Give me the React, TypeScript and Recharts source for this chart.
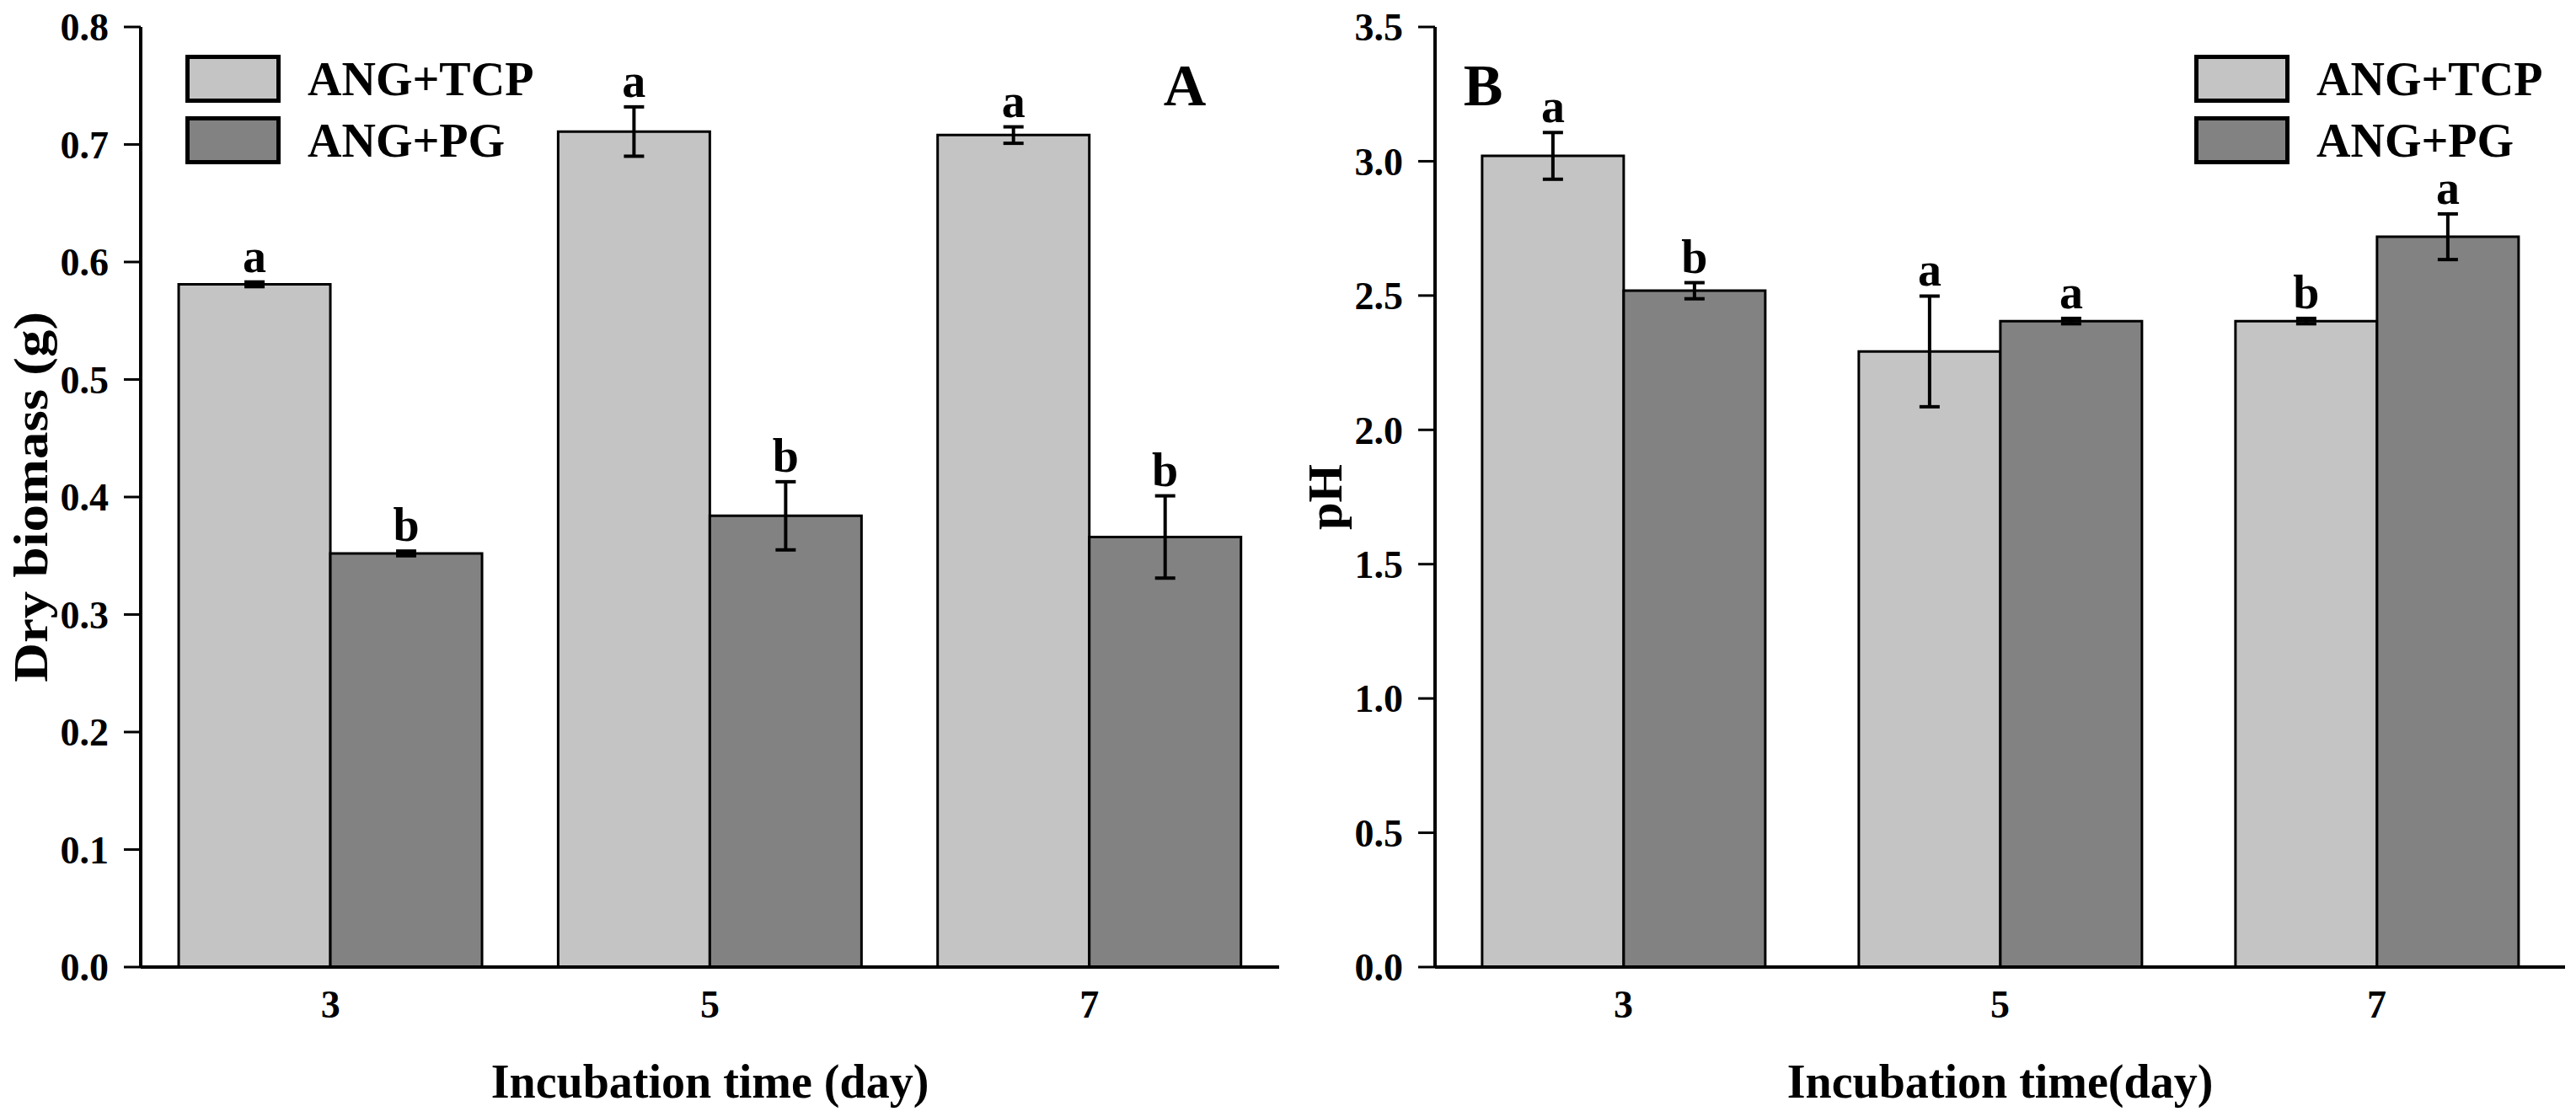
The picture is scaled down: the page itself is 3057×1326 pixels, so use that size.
import React from 'react';
import { BarChart, Bar, XAxis, YAxis, ErrorBar, LabelList, Legend } from 'recharts';

// ---------- data ----------
const days = ['3', '5', '7'];

const biomassTCP = [0.581, 0.711, 0.708];
const biomassTCPErr = [0.002, 0.021, 0.007];
const biomassPG = [0.352, 0.384, 0.366];
const biomassPGErr = [0.002, 0.029, 0.035];
const biomassTCPLetters = ['a', 'a', 'a'];
const biomassPGLetters = ['b', 'b', 'b'];
const biomassTicks = [0, 0.1, 0.2, 0.3, 0.4, 0.5, 0.6, 0.7, 0.8];

const phTCP = [3.02, 2.292, 2.405];
const phTCPErr = [0.087, 0.206, 0.01];
const phPG = [2.518, 2.405, 2.719];
const phPGErr = [0.03, 0.01, 0.085];
const phTCPLetters = ['a', 'a', 'b'];
const phPGLetters = ['b', 'a', 'a'];
const phTicks = [0, 0.5, 1.0, 1.5, 2.0, 2.5, 3.0, 3.5];

const seriesNames = ['ANG+TCP', 'ANG+PG'];

// ---------- style ----------
const FONT = "'Liberation Serif', 'Times New Roman', serif";
const LIGHT = '#c4c4c4';
const DARK = '#828282';

const buildRows = (tcp: number[], tcpErr: number[], pg: number[], pgErr: number[], tl: string[], pl: string[]) =>
  days.map((d, i) => ({
    day: d,
    tcp: tcp[i],
    tcpErr: tcpErr[i],
    pg: pg[i],
    pgErr: pgErr[i],
    tcpLetter: tl[i],
    pgLetter: pl[i],
  }));

const biomassRows = buildRows(biomassTCP, biomassTCPErr, biomassPG, biomassPGErr, biomassTCPLetters, biomassPGLetters);
const phRows = buildRows(phTCP, phTCPErr, phPG, phPGErr, phTCPLetters, phPGLetters);

const makeLetter = (rows: any[], valKey: string, errKey: string) => (props: any) => {
  const { x, y, width, height, value, index } = props;
  const row = rows[index];
  if (!row) return null;
  const v = row[valKey];
  const pxPerUnit = Math.abs(height) / v;
  const top = Math.min(y, y + height) - row[errKey] * pxPerUnit;
  return (
    <text x={x + width / 2} y={top - 12} textAnchor="middle" fontFamily={FONT} fontWeight="bold" fontSize={56} fill="#000">
      {value}
    </text>
  );
};

const LegendBox = () => (
  <svg width={440} height={140} style={{ display: 'block' }}>
    {[LIGHT, DARK].map((c, i) => (
      <g key={i}>
        <rect x={4.5} y={7.5 + i * 73} width={108} height={52} fill={c} stroke="#000" strokeWidth={5} />
        <text x={147} y={53 + i * 73} fontFamily={FONT} fontWeight="bold" fontSize={56} fill="#000">
          {seriesNames[i]}
        </text>
      </g>
    ))}
  </svg>
);

type PanelProps = {
  rows: any[];
  width: number;
  yWidth: number;
  rightMargin: number;
  ticks: number[];
  yMax: number;
  yTitle: string;
  yTitleX: number;
  yTitleLen?: number;
  xTitle: string;
  gap: string;
  legendLeft: number;
};

const Panel = (p: PanelProps) => (
  <BarChart
    width={p.width}
    height={1326}
    data={p.rows}
    margin={{ top: 32, right: p.rightMargin, bottom: 0, left: 0 }}
    barCategoryGap={p.gap}
    barGap={0}
  >
    <XAxis
      dataKey="day"
      height={178}
      tickLine={false}
      tickMargin={21}
      axisLine={{ stroke: '#000', strokeWidth: 4 }}
      tick={{ fontSize: 46, fontFamily: FONT, fontWeight: 'bold', fill: '#000' }}
      label={(lp: any) => {
        const vb = lp.viewBox || {};
        return (
          <text x={vb.x + vb.width / 2} y={vb.y + 155} textAnchor="middle" fontFamily={FONT} fontWeight="bold" fontSize={56} fill="#000">
            {p.xTitle}
          </text>
        );
      }}
    />
    <XAxis xAxisId="top" dataKey="day" orientation="top" height={0} tick={false} tickLine={false} axisLine={{ stroke: '#000', strokeWidth: 4 }} />
    <YAxis
      type="number"
      domain={[0, p.yMax]}
      ticks={p.ticks}
      interval={0}
      width={p.yWidth}
      tickSize={20}
      tickMargin={18}
      tickFormatter={(v: number) => v.toFixed(1)}
      axisLine={{ stroke: '#000', strokeWidth: 4 }}
      tickLine={{ stroke: '#000', strokeWidth: 3 }}
      tick={{ fontSize: 46, fontFamily: FONT, fontWeight: 'bold', fill: '#000' }}
      label={(lp: any) => {
        const vb = lp.viewBox || {};
        const cx = vb.x + p.yTitleX;
        const cy = vb.y + vb.height / 2;
        const extra: any = p.yTitleLen ? { textLength: p.yTitleLen, lengthAdjust: 'spacingAndGlyphs' } : {};
        return (
          <text x={cx} y={cy} transform={`rotate(-90, ${cx}, ${cy})`} textAnchor="middle" fontFamily={FONT} fontWeight="bold" fontSize={56} fill="#000" {...extra}>
            {p.yTitle}
          </text>
        );
      }}
    />
    <YAxis yAxisId="right" orientation="right" type="number" domain={[0, 1]} width={0} tick={false} tickLine={false} axisLine={{ stroke: '#000', strokeWidth: 4 }} />
    <Legend
      layout="horizontal"
      verticalAlign="middle"
      align="center"
      width={440}
      wrapperStyle={{ left: p.legendLeft, top: 60, width: 440, height: 140 }}
      content={() => <LegendBox />}
    />
    <Bar dataKey="tcp" name={seriesNames[0]} fill={LIGHT} stroke="#000" strokeWidth={3} isAnimationActive={false}>
      <ErrorBar dataKey="tcpErr" width={12} strokeWidth={4} stroke="#000" direction="y" />
      <LabelList dataKey="tcpLetter" content={makeLetter(p.rows, 'tcp', 'tcpErr')} />
    </Bar>
    <Bar dataKey="pg" name={seriesNames[1]} fill={DARK} stroke="#000" strokeWidth={3} isAnimationActive={false}>
      <ErrorBar dataKey="pgErr" width={12} strokeWidth={4} stroke="#000" direction="y" />
      <LabelList dataKey="pgLetter" content={makeLetter(p.rows, 'pg', 'pgErr')} />
    </Bar>
  </BarChart>
);

export default function App() {
  return (
    <div style={{ position: 'absolute', left: 0, top: 0, width: 3057, height: 1326, background: '#fff', fontFamily: FONT }}>
      <div style={{ position: 'absolute', left: 0, top: 0 }}>
        <Panel
          rows={biomassRows}
          width={1530}
          yWidth={167}
          rightMargin={12}
          ticks={biomassTicks}
          yMax={0.8}
          yTitle="Dry biomass (g)"
          yTitleX={56}
          yTitleLen={440}
          xTitle="Incubation time (day)"
          gap="10%"
          legendLeft={218}
        />
      </div>
      <div style={{ position: 'absolute', left: 1530, top: 0 }}>
        <Panel
          rows={phRows}
          width={1527}
          yWidth={173}
          rightMargin={13}
          ticks={phTicks}
          yMax={3.5}
          yTitle="pH"
          yTitleX={62}
          yTitleLen={78}
          xTitle="Incubation time(day)"
          gap="12.5%"
          legendLeft={1072}
        />
      </div>
      <svg width={3057} height={1326} style={{ position: 'absolute', left: 0, top: 0, pointerEvents: 'none' }}>
        <text x={1406} y={125} textAnchor="middle" fontFamily={FONT} fontWeight="bold" fontSize={70} fill="#000">A</text>
        <text x={1760} y={125} textAnchor="middle" fontFamily={FONT} fontWeight="bold" fontSize={70} fill="#000">B</text>
      </svg>
    </div>
  );
}
